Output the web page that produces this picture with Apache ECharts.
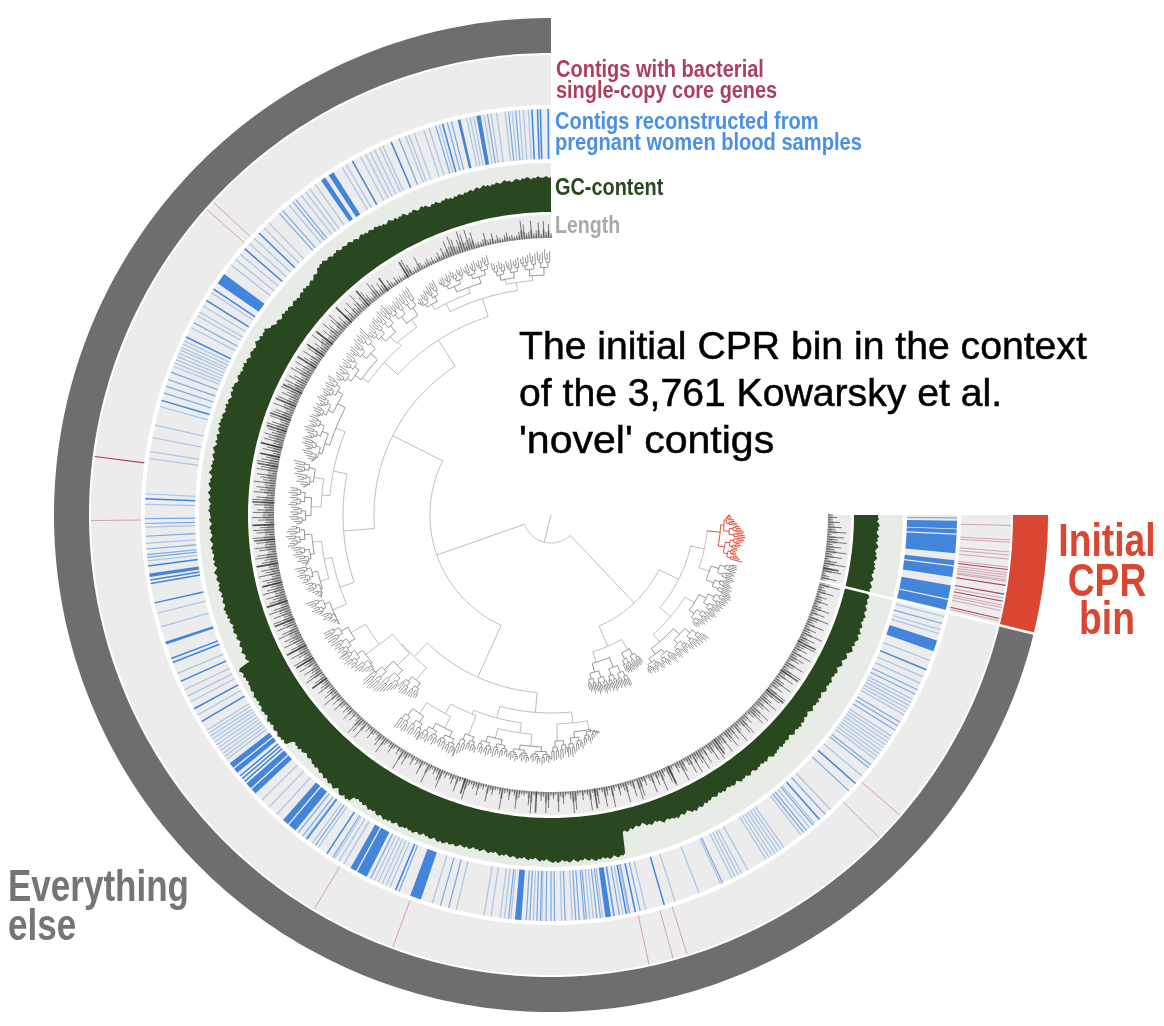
<!DOCTYPE html>
<html><head><meta charset="utf-8">
<style>html,body{margin:0;padding:0;background:#fff}#c{width:1164px;height:1026px}</style>
<script src="https://cdn.jsdelivr.net/npm/echarts@6/dist/echarts.min.js"></script>
</head><body><div id="c"></div>
<script>
// All angles: degrees counter-clockwise from 12 o'clock. All radii: radius-axis units.
const binEnd = 256.2;
const ringColors = ['#6e6e6e','#da4632','#ececec','#ececec','#e7ece6','#ececec'];
const rings = [
 [462,497,0,binEnd,0],[462,497,binEnd,270,1],
 [410,460,0,270,2],[356,406,0,270,3],[303,352,0,270,4],[277,300,0,270,5]
];
const redFaint = [47.2,48.4,90.7,149,159.9,192.3,195.4,197.2,225.5,229.3,268.7,265.4,265,264.5,263.5,262.8,262.5,262.2,261.9,261.7,259.6,258.7,258.4,258,256.7,266.6,266.9];
const redStrong = [82.7,261.2,260.1,257,263.2,259.2];
const blueBands = [[10,10.6],[12.9,13.3],[32.4,33.2],[33.8,34.5],[53.6,55.2],[98.3,98.8],[108.2,108.6],[127.7,128.5],[128.7,129.4],[131.4,132.3],[132.5,133.3],[138.7,139.6],[139.8,141],[150.4,151.3],[151.5,153],[159.7,161.3],[174.9,175.8],[187.7,188.5],[250.4,252],[256.5,257.9],[258.1,260],[261.2,262.7],[262.9,263.6],[264.6,267.2],[267.4,268],[268.1,269.2]];
const blueStrong = [0.4,1.5,1.9,2.7,15.5,23.2,29.3,46,49,56.2,58.1,64,73.6,87.7,97.2,99.2,99.7,102.5,110.7,111.3,114.2,118.5,120.6,130,130.5,131,143,146.5,157.5,190.7,192,196.2,221.4,228.6,247.6];
const blueMedium = [5,6,9,14.2,14.8,16.5,22,39,39.5,41.4,42,61.7,69.4,70.5,71.5,72.5,90.5,91.2,93,94.8,95.6,96,141.5,142.3,144.5,147.5,153.6,158,164.2,165.4,174,176.5,177,178,178.5,179.3,180,180.5,182,183.5,184,184.7,185,186.5,187,188.9,189,189.7,191.2,192.7,205,218.5,219,220.2,222.5,227.2,231.5,232,238,238.7,239.3,243.8,244.5,254.5,269.6];
const blueFaint = [3.2,3.9,4.5,5.5,6.5,7.7,8.5,9.5,11,11.5,12,16,17.5,18.3,19.7,20.5,21,24.5,25,25.8,26.5,27.2,28,30.3,31,35.5,36.5,37.2,38,40.2,44,45,47,48,50,51,52,56.8,59,60,60.6,62.5,64.6,65.1,65.6,66,66.5,67,67.5,68,68.5,74.5,77.2,79,81,82,87,88.5,91.7,94,96.5,104,106,113,115.5,116.5,117.4,119.5,122,122.5,123,123.5,124,124.5,125,125.5,126,126.5,127,134.6,136,137.5,142.8,144,145,147.8,148.5,149.3,154.2,154.8,155.4,156,156.6,163,166.5,170.5,171.5,172.8,173.4,174.3,177.5,178.7,181.5,183,185.5,186,187.3,190.2,191,193.5,197.8,201.4,204.7,206.5,207,207.5,208,209,212,212.5,213,213.5,214,214.5,215,218,219.6,220.5,223.5,230,233,233.5,234,234.5,235,235.5,236,236.5,237,240.5,241,241.5,242,242.5,243,245.5,246.5,249,253,253.6,255.5];
// outer edge of the GC-content band, one value every gcStep degrees
const gcStep = 0.375, gcBase = 303;
const gcTop = [
338,337,339,338,337,338,339,337,338,336,338,339,337,338,336,337,338,336,335,337,336,338,337,335,336,337,335,336,334,336,335,337,335,334,336,335,333,335,334,333,
334,332,333,334,332,333,331,333,332,334,332,333,331,332,334,332,333,331,332,334,333,335,333,332,334,335,333,334,332,334,336,334,335,333,336,334,335,337,335,334,
336,335,337,336,338,336,337,338,336,338,337,339,338,336,338,339,337,339,340,338,339,340,338,339,341,339,340,338,340,341,339,340,342,340,341,339,340,337,336,338,
336,334,336,335,333,335,334,336,333,335,334,332,334,333,335,334,332,334,335,333,335,334,336,334,333,335,336,334,336,338,337,339,342,340,341,339,342,340,341,343,
341,339,341,340,342,341,339,341,342,340,343,341,342,340,342,341,343,342,340,341,343,342,344,341,343,342,340,342,343,341,344,342,343,341,343,344,342,344,343,345,
342,344,343,341,344,343,342,344,341,343,345,343,342,344,343,341,343,342,344,342,343,345,342,341,343,342,344,343,341,342,344,342,341,343,342,340,342,341,343,341,
341,340,342,341,339,341,342,340,341,339,340,342,341,339,340,342,340,341,339,340,341,339,341,340,338,340,342,340,339,341,340,338,340,339,341,339,338,340,338,339,
340,338,339,341,339,340,338,340,337,339,338,336,338,337,339,337,336,338,337,335,337,338,336,337,339,337,336,338,337,335,347,349,347,346,348,346,347,345,347,346,
347,348,346,347,349,347,348,346,349,347,348,350,348,349,347,349,351,349,350,348,350,351,349,350,352,350,351,349,351,350,344,342,344,343,345,342,344,343,341,343,
344,342,343,345,344,346,344,345,347,345,346,348,346,347,349,347,348,350,348,346,349,351,350,348,351,349,350,344,345,343,345,344,346,344,345,347,345,346,344,347,
347,345,346,348,346,347,345,347,346,344,346,347,345,346,344,346,345,347,345,344,346,345,343,345,344,346,345,343,345,346,344,346,345,343,345,344,343,345,344,342,
343,344,342,344,343,341,343,342,344,342,341,343,344,342,343,341,343,345,343,344,342,344,345,343,344,346,344,345,343,345,346,344,345,343,345,347,345,346,344,346,
347,348,346,348,347,345,347,346,348,347,345,347,348,346,347,345,347,348,346,348,349,347,348,346,348,347,349,348,346,348,349,347,348,346,325,324,326,325,323,325,
323,322,324,323,321,323,325,324,326,325,323,325,324,326,328,326,325,327,326,328,327,329,327,326,328,327,325,327,329,328,330,328,327,329,328,326,328,326,327,325,
325,327,326,324,326,325,327,325,324,326,325,327,326,324,326,328,326,327,325,327,328,326,325,327,328,326,327,325,327,326,328,326,325,327,329,327,328,326,327,325,
328,326,327,325,327,326,324,326,328,326,325,327,326,328,325,327,326,324,326,325,323,325,327,325,324,326,325,327,324,326,325,323,325,327,326,324,326,325,327,325,
324,326,325,327,326,324,326,328,327,325,327,329,328,326,329,331,330,328,331,329,330,332,331,329,332,330,329,331,330,328,330,329,331,329,328,330,329,327,329,328,
327,329,328,326,328,327,329,328,326,328,329,327,326,328,327,329,327,328,326,328,329,327,328,326,327,329,328,326,328,327,329,327,326,328,327,329,328,326,328,327,327];
// contig length spikes, one value every lenStep degrees, measured out from lenBase
const lenStep = 0.5, lenBase = 277;
const lenHeight = [
5,14,6,17,4,16,8,5,18,7,6,15,19,8,5,4,6,5,9,7,4,5,8,4,11,6,5,13,7,5,
6,5,17,12,21,9,18,22,14,8,16,20,10,17,7,12,5,9,6,4,7,5,8,6,4,7,15,5,6,4,
12,19,7,5,4,6,5,8,4,6,10,5,7,9,13,6,15,19,9,6,11,16,8,13,7,21,12,9,18,7,
15,8,20,6,13,9,22,17,7,14,21,10,16,8,19,12,22,9,15,11,21,18,7,20,10,16,13,9,21,12,
18,22,8,15,20,11,21,17,9,22,14,19,10,21,16,12,22,8,18,20,13,21,9,17,22,11,19,14,21,16,
20,10,22,15,19,8,21,14,18,22,12,17,21,9,20,16,13,22,11,19,15,21,8,18,22,13,20,10,17,21,
12,22,16,9,20,14,21,18,10,22,15,19,11,21,17,8,20,22,13,16,21,10,18,14,22,9,19,15,21,12,
17,22,10,20,14,18,21,8,16,22,12,19,9,21,15,13,20,7,17,22,11,18,14,21,9,16,19,10,20,13,
8,21,15,12,19,6,17,10,14,20,5,13,18,8,11,16,5,9,14,7,19,6,12,5,15,8,4,10,6,14,
5,11,4,7,21,16,6,20,4,8,5,12,6,4,9,13,5,18,7,4,6,11,5,3,8,4,22,6,14,5,
4,10,3,7,5,15,4,3,20,6,4,8,5,12,19,4,7,3,6,10,4,16,5,3,9,21,6,4,8,5,
13,4,6,3,17,5,9,4,3,7,22,5,4,11,3,6,19,8,4,5,3,14,22,4,6,3,9,5,21,16,
4,7,3,20,5,12,4,3,8,22,19,5,3,10,4,6,21,4,7,16,3,5,20,9,4,22,6,3,12,5,
8,21,4,6,17,3,22,19,5,10,3,7,20,4,14,6,22,8,4,16,21,5,3,11,7,22,13,4,9,19,
5,21,8,14,22,6,18,4,11,20,7,22,5,15,9,21,4,13,20,8,16,5,22,10,6,18,21,7,12,4,
9,20,14,22,5,11,17,7,21,13,6,19,9,22,4,15,8,21,11,5,18,7,13,22,6,10,20,4,12,16,
7,21,5,14,9,20,4,11,16,6,22,8,13,5,19,7,10,21,4,15,6,18,9,5,14,7,11,4,17,8,
6,21,12,5,16,8,4,19,10,6,22,13,5,17,7,21,9,15,6,20,11,17,4,19,8,14,6,12,5,9,5];
const lenDarkAngles = [31,36,41,46,52,55,58,64,67,70,72.5,76,78,80,87.5,92,95,100,104,108,112,118,121,126,162,177,189,205,216,231,236,243,259];
const lenDarkHeight = [18,16,20,22,21,20,22,21,22,22,21,22,20,21,22,22,21,22,20,22,21,22,20,18,16,21,20,19,18,22,21,20,16];
// dendrogram: node = [angle, radius, child, child...]; tip group = [angle, radius, from, to, tip radii]
const groupTop = [17.6,227,
  [8.5,235,
    [11,240,7.4,13.4,[260,258,257,259,256,258,255,257,259,256,258,259]],
    [4.5,240,0.3,6.8,[264,262,266,263,261,264,262,260,263,261,259,260,258]]],
  [26.4,236,
    [29.5,242,26.8,32,[263,261,262,259,260,257,258,255,256,253,254,251]],
    [20,242,14,25.7,[268,266,267,264,265,263,266,264,262,265,263,261,264,262,263,260,262,264,261,263,260,262,261,259]]]];
const groupUpper = [47.5,226,
  [54,233,45.6,57.5,[267,265,263,265,262,264,261,259,262,260,258,261,259,257,260,258,256,259,257,255,258,256,254]],
  [41.5,231,
    [42,240,39,45.3,[270,268,266,268,265,263,266,264,261,263,260,258,257]],
    [35.5,240,32.4,38.7,[270,268,269,266,268,265,267,264,266,263,265,264,265]]]];
const groupLeftUp = [78.6,222,
  [68,232,58,77.3,[263,261,259,262,260,258,261,259,257,260,262,259,257,260,258,261,259,256,259,261,258,260,257,259,262,260,258,255,258,260,257,259,256,254,257,255,252,250,246]],
  [85,230,
    [81,240,78,83.5,[263,261,259,261,258,260,257,255,257,253,250]],
    [88,240,84,92,[262,261,263,260,262,259,261,263,260,258,261,259,262,260,257,255]]]];
const groupLeftLow = [108.9,223,
  [101,231,
    [96.5,240,92.6,101.5,[260,263,265,262,266,264,261,263,265,262,260,258,261,259,256,258,254,251]],
    [106,240,102,109.7,[262,260,258,261,259,256,258,255,253,256,254,251,249,247,245]]],
  [113.5,238,110,117.4,[261,259,257,255,258,255,253,251,249,251,247,245,243,240,238]]];
const groupLower = [136,197,
  [131,198,
    [127,215,
      [120.5,232,117.6,124,[257,256,258,255,257,254,256,253,255,252,254,251,253]],
      [127,232,124.2,131.3,[256,254,252,255,253,250,252,249,251,248,246,243,240,237]]],
    [134.4,215,131.5,138,[250,252,250,253,251,249,250,248,246,244,241,238,235]]],
  [140.8,213,138.3,143.4,[230,232,234,233,232,231,231,230,229,228]]];
const groupBottom = [175.5,198,
  [165,210,
    [158.4,214,
      [152,225,
        [146.5,238,143.5,149,[264,263,261,263,262,260,262,261,259,261,262]],
        [153.5,238,149.2,157.7,[262,260,258,260,258,256,259,257,255,258,256,259,257,259,260,258,261]]],
      [159.5,235,157.8,162,[260,257,255,252,250,248,250,249,250]]],
    [171.9,220,
      [166,230,162.5,169.5,[246,248,249,247,250,248,246,249,247,245,248,246,244,246]],
      [175,232,170,180,[246,248,246,249,247,245,248,246,249,247,245,248,246,249,247,250,248,246,248,245]]]],
  [186,209,
    [181.6,226,180.2,184,[244,246,245,243,245,243,240,238]],
    [190,218,184.2,192.6,[243,241,243,240,238,236,234,236,233,231,229,232,229,227,225,224,223]]]];
const groupRight = [223.4,121,
  [203.4,143,
    [197,154,192.5,205.5,[179,182,180,184,181,183,186,184,182,185,187,184,186,183,187,185,188,186,184,187,185,188,186,187,189,188]],
    [209.6,155,205.8,212,[174,176,175,177,175,176,174,176,175,174,175,174,173]]],
  [243.2,143,
    [229.6,157,
      [220.6,167,212,232,[186,188,186,189,187,190,188,186,189,191,189,187,190,192,190,188,191,193,191,189,192,194,192,190,193,195,193,191,194,196,194,197,195,198,196,199,197,200,199,201]],
      [238.5,168,232.6,245,[184,186,185,187,189,187,190,188,191,189,192,194,192,190,193,195,193,196,194,197,195,198,196,199,198]]],
    [257.5,157,
      [250.4,168,245.4,254.6,[198,196,194,196,193,195,193,191,193,195,193,191,194,192,194,192,194,193,193]],
      [264.2,170,256.2,270,[197,194,192,190,189,188,190,189,191,193,191,193,195,194,196,195,193,194,192,190,189,187,186,184,183,181,180,179]]]]];
const treeRoot = [166,28,
  [109.3,121,
    [63.4,177,[32.8,208,groupTop,groupUpper],[94.4,208,groupLeftUp,groupLeftLow]],
    [155.7,178,groupLower,groupBottom]],
  groupRight];
// text, x, y, family kind, size, colour, horizontal squeeze
const labels = [
 ['Contigs with bacterial',556,71,'n',23,'#ad3f5e',0.87],['single-copy core genes',556,92,'n',23,'#ad3f5e',0.865],
 ['Contigs reconstructed from',555,123,'n',23,'#4a8fe3',0.87],['pregnant women blood samples',555,144,'n',23,'#4a8fe3',0.873],
 ['GC-content',555,189,'n',23,'#2a481f',0.865],['Length',555,227,'n',23,'#a9a9a9',0.85],
 ['The initial CPR bin in the context',519,349,'r',38,'#000',1.03],['of the 3,761 Kowarsky et al.',519,396,'r',38,'#000',1.03],["'novel' contigs",519,443,'r',38,'#000',1.08],
 ['Initial',1107,543,'c',46,'#da4632',0.81],['CPR',1107,583,'c',46,'#da4632',0.81],['bin',1107,621,'c',46,'#da4632',0.81],
 ['Everything',8,889,'n',45,'#757575',0.778],['else',8,928,'n',45,'#757575',0.778]
];

// ---- tree flattening: rows [r0,a0,r1,a1,kind]  kind 0 branch, 1 fuzz, 2 red fuzz
const treeRows = [];
function seg(r0,a0,r1,a1,k){treeRows.push([r0,a0,r1,a1,k]);}
function fuzz(lo,hi,pr,angles,tips,k){
  if(hi-lo===1){seg(pr,angles[lo],tips[lo],angles[lo],k);return angles[lo];}
  const m=(lo+hi)>>1; let mn=1e9; for(let i=lo;i<hi;i++)mn=Math.min(mn,tips[i]);
  const nr=pr+(mn-pr)*0.36;
  const a1=(angles[lo]+angles[m-1])/2,a2=(angles[m]+angles[hi-1])/2;
  const am=(a1+a2)/2;
  seg(pr,am,nr,am,k);
  fuzz(lo,m,nr,angles,tips,k);fuzz(m,hi,nr,angles,tips,k);
  seg(nr,a1,nr,a2,k);
  return am;
}
function walk(node,pr){
  const a=node[0],r=node[1];
  if(typeof node[2]==='number'){
    const f=node[2],t=node[3],tips=node[4],n=tips.length,red=f>=256?2:1;
    seg(pr,a,r,a,red===2?2:0);
    const ang=tips.map((_,i)=>f+(t-f)*i/(n-1));
    const m=n>>1,a1=(ang[0]+ang[m-1])/2,a2=(ang[m]+ang[n-1])/2;
    seg(r,Math.min(a1,a),r,Math.max(a2,a),red);
    fuzz(0,m,r,ang,tips,red);fuzz(m,n,r,ang,tips,red);
    return;
  }
  seg(pr,a,r,a,0);
  const kids=node.slice(2);
  seg(r,kids[0][0],r,kids[kids.length-1][0],0);
  kids.forEach(c=>walk(c,r));
}
walk(treeRoot,0);

// ---- drawing helpers, everything passes through the polar axes via api.coord
function arcPts(api,r,a0,a1){const n=Math.max(1,Math.ceil(Math.abs(a1-a0)/0.8)),p=[];for(let i=0;i<=n;i++)p.push(api.coord([r,a0+(a1-a0)*i/n]));return p;}
const base={type:'custom',coordinateSystem:'polar',silent:true,clip:false,animation:false,encode:{radius:0,angle:1}};
function polyEl(points,fill){return {type:'polygon',shape:{points},style:{fill,stroke:null}};}
function lineEl(points,stroke,lw,op){return {type:'polyline',shape:{points},style:{stroke,lineWidth:lw,fill:null,opacity:op==null?1:op}};}
function spokes(angles,r0,r1,color,lw,op){return Object.assign({},base,{
  data:angles.map(a=>[r0,a,r1]),
  renderItem:(p,api)=>lineEl([api.coord([api.value(0),api.value(1)]),api.coord([api.value(2),api.value(1)])],color,lw,op)});}
function bands(list,r0,r1,color){return Object.assign({},base,{
  data:list.map(b=>[r0,b[0],r1,b[1]]),
  renderItem:(p,api)=>{const a=arcPts(api,api.value(0),api.value(1),api.value(3)),b=arcPts(api,api.value(2),api.value(3),api.value(1));return polyEl(a.concat(b),color);}});}
function spikes(rows,color,lw,op){return Object.assign({},base,{data:rows,
  renderItem:(p,api)=>lineEl([api.coord([api.value(0),api.value(1)]),api.coord([api.value(2),api.value(1)])],color,lw,op)});}

const series=[];
series.push(Object.assign({},base,{data:rings.map(x=>[x[0],x[2],x[1],x[3],x[4]]),
  renderItem:(p,api)=>{const a=arcPts(api,api.value(0),api.value(1),api.value(3)),b=arcPts(api,api.value(2),api.value(3),api.value(1));return polyEl(a.concat(b),ringColors[api.value(4)]);}}));
series.push(spokes(redFaint,410,460,'#b65a76',1,0.5));
series.push(spokes(redStrong,410,460,'#a92c52',1.1,0.9));
series.push(spokes(blueFaint,356,406,'#4a8fe3',1.2,0.42));
series.push(spokes(blueMedium,356,406,'#4a8fe3',1.2,0.72));
series.push(spokes(blueStrong,356,406,'#3f86de',1.5,1));
series.push(bands(blueBands,356,406,'#4485dc'));
// GC polygon
series.push(Object.assign({},base,{data:[[gcBase,0]],
  renderItem:(p,api)=>{const pts=arcPts(api,api.value(0),0,270);
    for(let i=gcTop.length-1;i>=0;i--)pts.push(api.coord([gcTop[i],i*gcStep]));
    return polyEl(pts,'#2a481f');}}));
// length spikes: a wide half-height pass under a thin full-height pass, so each spike tapers
series.push(spikes(lenHeight.map((h,i)=>[lenBase,i*lenStep,lenBase+h*0.5]),'#2c2c2c',2.4,0.32));
series.push(spikes(lenHeight.map((h,i)=>[lenBase,i*lenStep,lenBase+h]),'#2c2c2c',1,0.62));
series.push(spikes(lenDarkAngles.map((a,i)=>[lenBase,a,lenBase+lenDarkHeight[i]]),'#333',1.7,0.72));
// white gap between the bin and everything else
series.push(spokes([binEnd],277,497.5,'#fff',2.6,1));
// tree
const treeStyle=[['#bdbdbd',1,1],['#7c7c7c',0.95,0.85],['#e0452f',1,0.95]];
series.push(Object.assign({},base,{data:treeRows,
  renderItem:(p,api)=>{const r0=api.value(0),a0=api.value(1),r1=api.value(2),a1=api.value(3),s=treeStyle[api.value(4)];
    const pts=r0===r1?arcPts(api,r0,a0,a1):[api.coord([r0,a0]),api.coord([r1,a1])];
    return lineEl(pts,s[0],s[1],s[2]);}}));

const fam={n:'"Liberation Sans",sans-serif',c:'"Liberation Sans",sans-serif',r:'"Liberation Sans",Arial,sans-serif'};
const graphic=labels.map(l=>({type:'text',x:l[1],y:l[2],scaleX:l[6],silent:true,style:{
  text:l[0],fill:l[5],font:(l[3]==='r'?'normal ':'bold ')+l[4]+'px '+fam[l[3]],
  stroke:l[3]==='r'?'#000':null,lineWidth:l[3]==='r'?0.5:0,
  textAlign:l[3]==='c'?'center':'left',textVerticalAlign:'middle'}}));

const chart=echarts.init(document.getElementById('c'),null,{renderer:'canvas'});
chart.setOption({animation:false,backgroundColor:'#fff',
  polar:{center:[551,515],radius:[0,497]},
  angleAxis:{type:'value',min:0,max:360,startAngle:90,clockwise:false,show:false},
  radiusAxis:{type:'value',min:0,max:497,show:false},
  series,graphic});
</script></body></html>
